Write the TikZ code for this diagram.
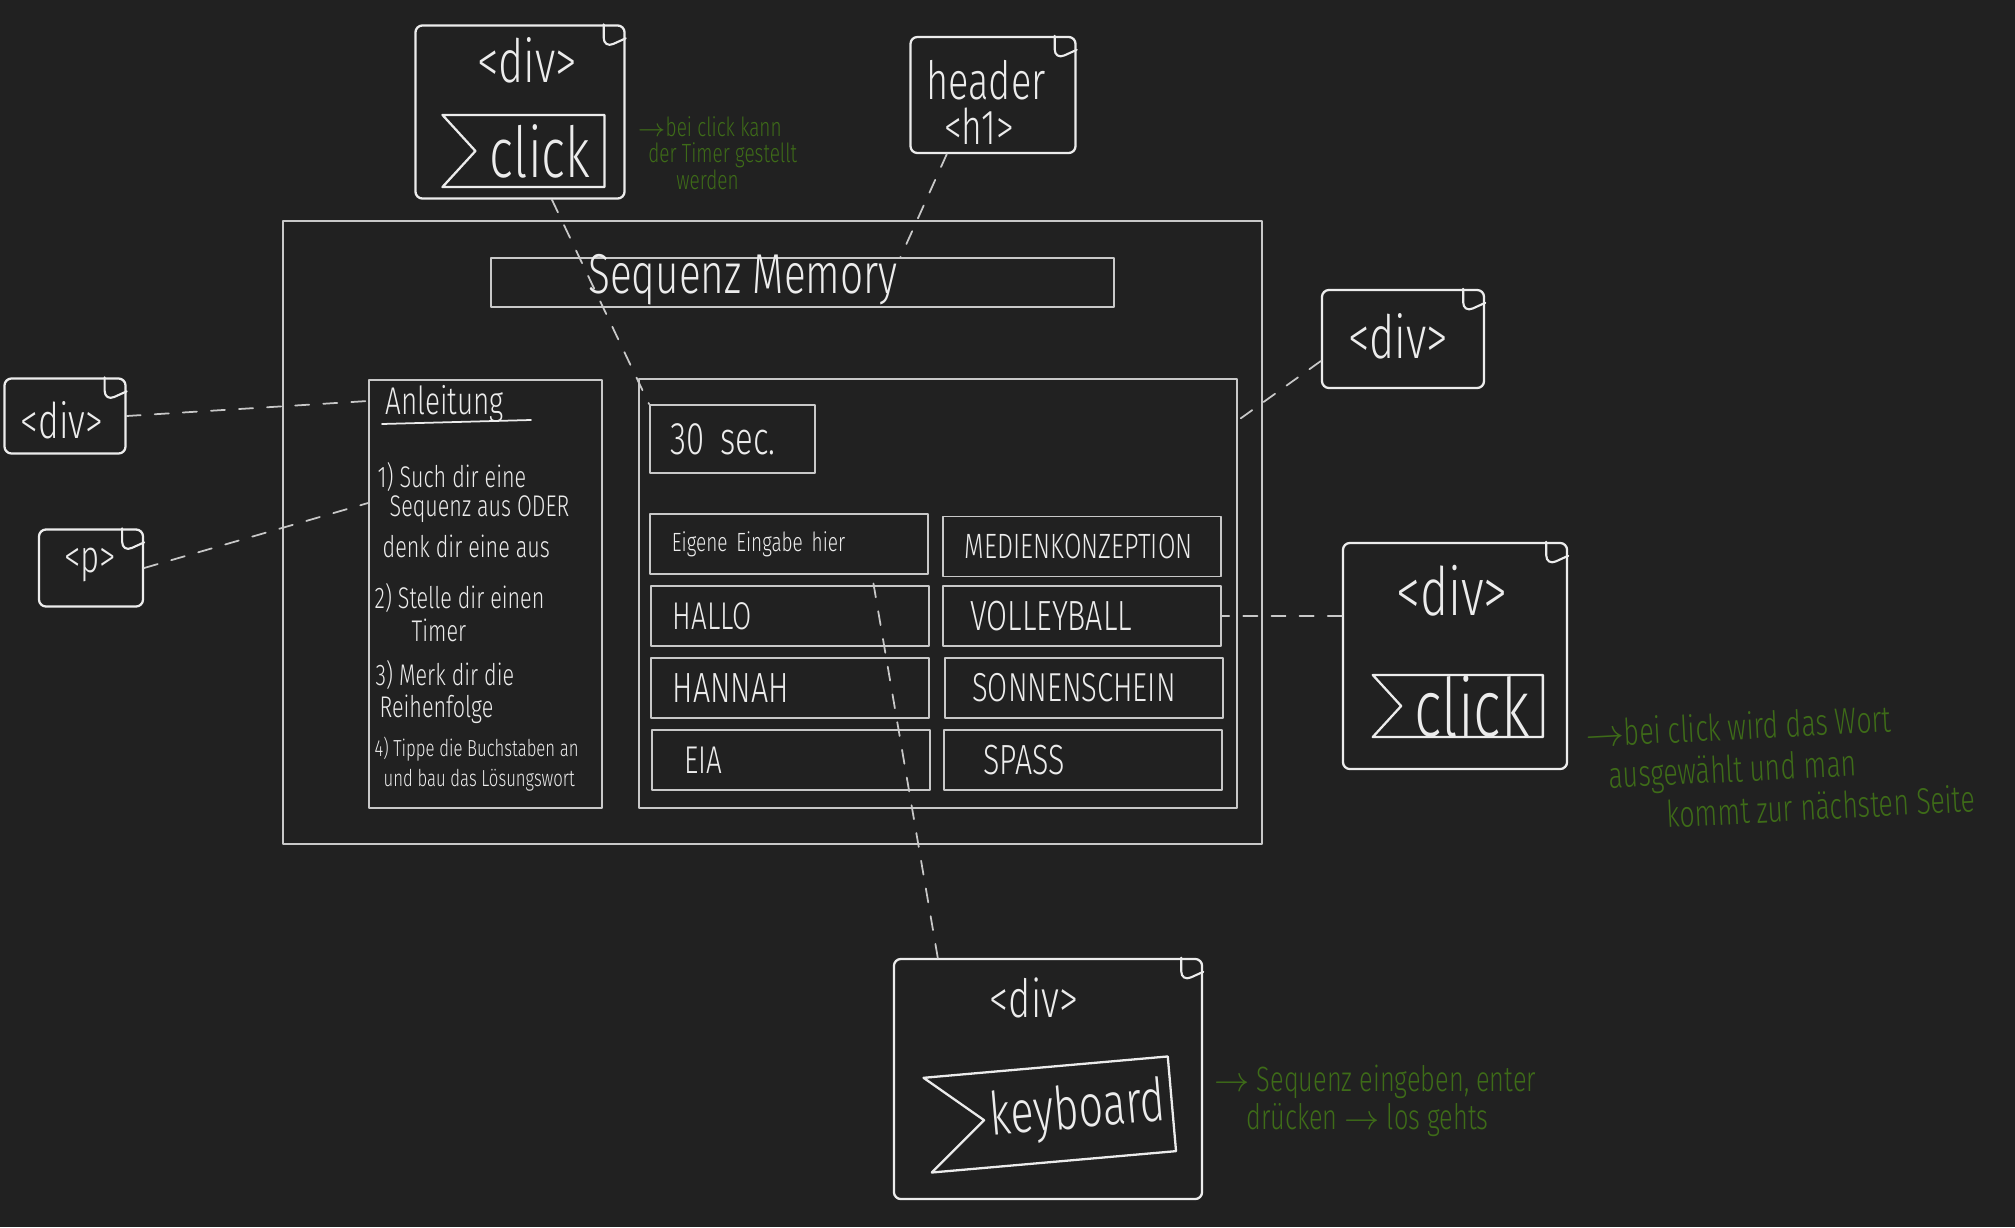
\documentclass[tikz,border=0pt]{standalone}
\usepackage{fontspec}
\setmainfont{Fira Sans Light}[FakeStretch=0.72]
\usepackage{tikz}
\usetikzlibrary{positioning,calc,shapes.symbols}

\definecolor{boardbg}{RGB}{33,33,33}
\definecolor{chalk}{RGB}{236,236,236}
\definecolor{wire}{RGB}{200,200,200}
\definecolor{notegreen}{RGB}{62,108,24}
\newcommand{\hs}[2]{\fontsize{#1}{#2}\selectfont}

\begin{document}
\begin{tikzpicture}[x=0.01cm,y=-0.01cm,line cap=round,line join=round,
		wirebox/.style={draw=wire,line width=0.5pt,inner sep=0pt},
		btn/.style={wirebox,minimum height=0.6cm,text width=2.34cm,inner xsep=0.22cm,
			align=left,text=chalk,font=\hs{12pt}{12pt}},
		note/.style={draw=chalk,line width=0.65pt,rounded corners=2pt,inner sep=0pt},
		flag/.style={draw=chalk,line width=0.65pt,shape=signal,signal from=west,
			signal to=nowhere,text=chalk,inner sep=0pt},
		link/.style={draw=wire,line width=0.5pt,dash pattern=on 4pt off 4pt},
		txt/.style={text=chalk,inner sep=0pt},
		green/.style={text=notegreen,inner sep=0pt,align=left}]
		\fill[boardbg] (0,0) rectangle (2015,1227);
		\useasboundingbox (0,0) rectangle (2015,1227);

		% wireframe
		\node[wirebox,minimum width=9.79cm,minimum height=6.23cm] (frame) at (772.5,532.5) {};
		\node[wirebox,minimum width=6.23cm,minimum height=0.49cm] (title) at (802.5,282.5) {};
		\node[txt,font=\hs{16pt}{16pt}] (titletext) at (743,280) {Sequenz Memory};

		\node[wirebox,minimum width=2.33cm,minimum height=4.28cm] (anleit) at (485.5,594) {};
		\node[txt,anchor=west,font=\hs{11pt}{11pt}] (anltitle) at (385,404) {Anleitung};
		\draw[chalk,line width=0.5pt] (382,424) -- (531,420);
		\foreach \x/\y/\t [count=\i] in {377/477/{1) Such dir eine},389/509/{Sequenz aus ODER},
			382/546/{denk dir eine aus},374/598/{2) Stelle dir einen},411/630/{Timer},
			375/675/{3) Merk dir die},379/709/{Reihenfolge}}
			\node[txt,anchor=west,font=\hs{8.5pt}{8.5pt}] (instr\i) at (\x,\y) {\t};
		\node[txt,anchor=west,font=\hs{6.6pt}{6.6pt}] (instr8) at (374,749) {4) Tippe die Buchstaben an};
		\node[txt,anchor=west,font=\hs{6.6pt}{6.6pt}] (instr9) at (383,780) {und bau das Lösungswort};

		\node[wirebox,minimum width=5.98cm,minimum height=4.29cm] (panel) at (938,593.5) {};
		\node[wirebox,minimum width=1.65cm,minimum height=0.68cm,text width=1.23cm,inner xsep=0.21cm,
			align=left,text=chalk,font=\hs{13pt}{13pt}] (timer) at (732.5,439) {30 sec.};

		\node[btn,font=\hs{7.5pt}{8pt}] (eigene) at (789,544) {Eigene Eingabe hier};
		\node[btn,font=\hs{10pt}{10pt}] (medien) at (1082,546.5) {MEDIENKONZEPTION};
		\node[btn,font=\hs{11pt}{11pt}] (hallo) at (790,616) {HALLO};
		\node[btn] (volley) at (1082,616) {\hspace*{1.5pt}VOLLEYBALL};
		\node[btn] (hannah) at (790,688) {HANNAH};
		\node[btn,font=\hs{11.5pt}{11.5pt}] (sonnen) at (1084,688) {\hspace*{1.5pt}SONNENSCHEIN};
		\node[btn,font=\hs{11pt}{11pt}] (eia) at (791,760) {\hspace*{3pt}EIA};
		\node[btn] (spass) at (1083,760) {\hspace*{5pt}SPASS};

		% annotations
		\node[note,minimum width=2.09cm,minimum height=1.73cm] (topdiv) at (520,112) {};
		\node[txt,font=\hs{17pt}{17pt}] (topdivtag) at (527,60) {<div>};
		\node[flag,minimum width=1.62cm,minimum height=0.72cm,signal pointer angle=95,
			font=\hs{20pt}{20pt}] (topclick) at (540,151) {click};

		\node[note,minimum width=1.65cm,minimum height=1.16cm] (headbox) at (993,95) {};
		\node[txt,font=\hs{15pt}{15pt}] (headtag) at (986,80) {header};
		\node[txt,font=\hs{14pt}{14pt}] (htag) at (979,126) {<h1>};

		\node[note,minimum width=1.62cm,minimum height=0.98cm] (rdiv) at (1403,339) {};
		\node[txt,font=\hs{17pt}{17pt}] (rdivtag) at (1398,336) {<div>};

		\node[note,minimum width=1.21cm,minimum height=0.75cm] (ldiv) at (65,416) {};
		\node[txt,font=\hs{14pt}{14pt}] (ldivtag) at (62,420) {<div>};

		\node[note,minimum width=1.04cm,minimum height=0.77cm] (pbox) at (91,568) {};
		\node[txt,font=\hs{13pt}{13pt}] (ptag) at (90,565) {<p>};

		\node[note,minimum width=2.24cm,minimum height=2.26cm] (rclick) at (1455,656) {};
		\node[txt,font=\hs{19pt}{19pt}] (rclicktag) at (1452,591) {<div>};
		\node[flag,minimum width=1.70cm,minimum height=0.62cm,signal pointer angle=95,
			font=\hs{23pt}{23pt}] (rclickbtn) at (1472,706) {click};

		\node[note,minimum width=3.08cm,minimum height=2.40cm] (keybox) at (1048,1079) {};
		\node[txt,font=\hs{15pt}{15pt}] (keytag) at (1034,998) {<div>};
		\node[flag,minimum width=2.45cm,minimum height=0.95cm,signal pointer angle=80,rotate=5,
			font=\hs{17pt}{17pt}] (keybtn) at (1078,1112) {keyboard};

		\foreach \b in {topdiv,headbox,rdiv,ldiv,pbox,rclick,keybox}
			\draw[chalk,line width=0.6pt,rounded corners=3pt] ($(\b.north east)+(-22,0)$) -- ++(0,24) -- ++(22,-10);

		% connectors
		\draw[link] (topdiv.290) -- (timer.north west);
		\draw[link] (headbox.232) -- ($(title.north)+(98,0)$);
		\draw[link] (rdiv.195) -- (panel.30);
		\draw[link] (ldiv.east) -- ($(anleit.north west)+(0,22)$);
		\draw[link] (pbox.east) -- ($(anleit.north west)+(0,124)$);
		\draw[link] (rclick.west |- volley.east) -- (volley.east);
		\draw[link] ($(keybox.north west)+(45,0)$) -- ($(eigene.south east)+(-57,0)$);

		% green remarks
		\node[green,anchor=west,font=\hs{7.5pt}{7.5pt}] (timernote) at (637,153)
			{$\rightarrow$bei click kann\\\hspace*{3pt}der Timer gestellt\\\hspace*{11pt}werden};
		\node[green,anchor=west,rotate=3,font=\hs{10.5pt}{12pt}] (wordnote) at (1587,776)
			{$\rightarrow$bei click wird das Wort\\\hspace*{6pt}ausgewählt und man\\\hspace*{22pt}kommt zur nächsten Seite};
		\node[green,anchor=west,font=\hs{10pt}{11pt}] (keynote) at (1214,1101)
			{$\rightarrow$ Sequenz eingeben, enter\\\hspace*{9pt}drücken $\rightarrow$ los gehts};
\end{tikzpicture}
\end{document}
